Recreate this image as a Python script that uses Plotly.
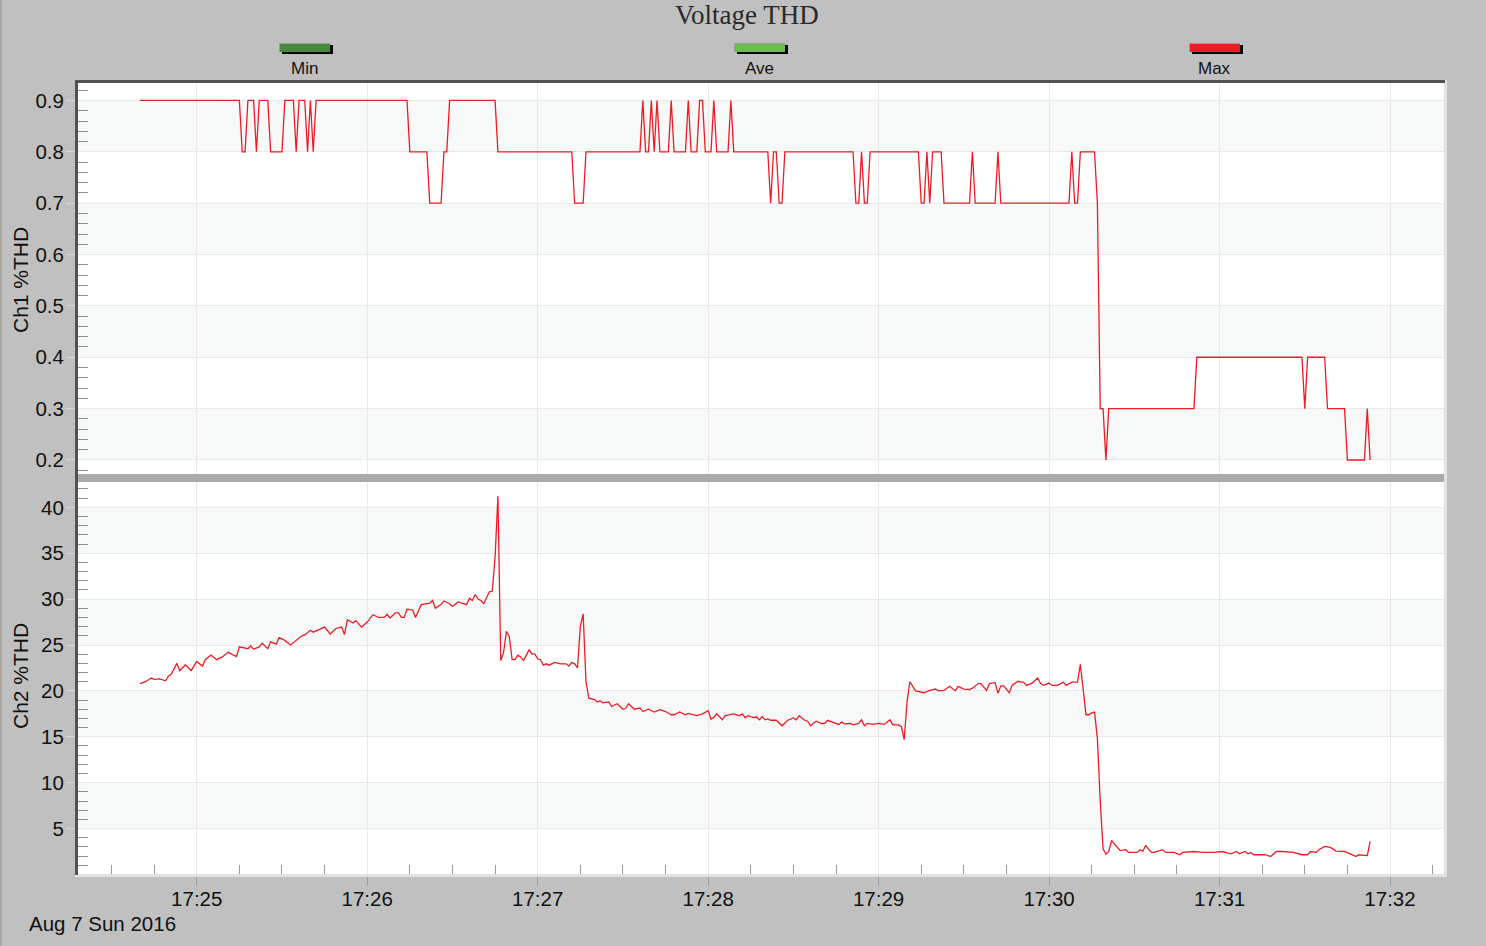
import plotly.graph_objects as go
from datetime import datetime, timedelta

# ---------------- data ----------------
START = datetime(2016, 8, 7, 17, 24, 40)
TITLE = "Voltage THD"
DATE_LABEL = "Aug 7 Sun 2016"

# Ch1 %THD (Max) : seconds after START, value
ch1_sec = [0, 35, 36, 37, 38, 40, 41, 42, 45, 46, 50, 51, 54, 55, 56, 58, 59, 60, 61, 62,
           94, 95, 101, 102, 106, 107, 108, 109, 125, 126, 152, 153, 156, 157, 176, 177, 178,
           179, 180, 181, 182, 183, 186, 187, 188, 192, 193, 194, 196, 197, 198, 199, 201,
           202, 203, 207, 208, 209, 221, 222, 223, 224, 225, 226, 227, 251, 252, 253, 254,
           255, 256, 257, 274, 275, 276, 277, 278, 279, 282, 283, 292, 293, 294, 301, 302,
           303, 327, 328, 329, 330, 331, 336, 337, 338, 339, 340, 341, 371, 372, 409, 410,
           411, 417, 418, 424, 425, 431, 432, 433]
ch1_val = [0.9, 0.9, 0.8, 0.8, 0.9, 0.9, 0.8, 0.9, 0.9, 0.8, 0.8, 0.9, 0.9, 0.8, 0.9, 0.9, 0.8, 0.9, 0.8, 0.9,
           0.9, 0.8, 0.8, 0.7, 0.7, 0.8, 0.8, 0.9, 0.9, 0.8, 0.8, 0.7, 0.7, 0.8, 0.8, 0.9, 0.8,
           0.8, 0.9, 0.8, 0.9, 0.8, 0.8, 0.9, 0.8, 0.8, 0.9, 0.8, 0.8, 0.9, 0.9, 0.8, 0.8,
           0.9, 0.8, 0.8, 0.9, 0.8, 0.8, 0.7, 0.8, 0.8, 0.7, 0.7, 0.8, 0.8, 0.7, 0.7, 0.8,
           0.7, 0.7, 0.8, 0.8, 0.7, 0.7, 0.8, 0.7, 0.8, 0.8, 0.7, 0.7, 0.8, 0.7, 0.7, 0.8,
           0.7, 0.7, 0.8, 0.7, 0.7, 0.8, 0.8, 0.7, 0.3, 0.3, 0.2, 0.3, 0.3, 0.4, 0.4, 0.3,
           0.4, 0.4, 0.3, 0.3, 0.2, 0.2, 0.3, 0.2]

# Ch2 %THD (Max) : seconds after START, value
ch2_sec = [0, 2, 4, 5, 7, 9, 10, 11, 13, 14, 16, 18, 20, 22, 23, 25, 27, 29, 31, 34, 35, 38, 39, 40,
           42, 43, 45, 46, 48, 49, 51, 53, 57, 58, 60, 61, 65, 67, 69, 71, 72, 73, 75, 76, 78, 80,
           82, 84, 86, 87, 88, 90, 91, 92, 93, 94, 96, 97, 99, 101, 102, 103, 104, 106, 107, 109,
           110, 112, 114, 115, 116, 117, 118, 119, 120, 121, 123, 124, 125, 126, 127, 128, 129,
           130, 131, 132, 133, 134, 135, 137, 138, 139, 140, 141, 142, 143, 144, 146, 148, 150,
           151, 152, 153, 154, 155, 156, 157, 158, 160, 161, 162, 163, 165, 166, 168, 170, 171,
           172, 174, 176, 177, 179, 181, 183, 185, 187, 188, 190, 192, 193, 195, 196, 198, 200,
           201, 202, 203, 205, 206, 209, 211, 212, 213, 214, 216, 217, 218, 219, 220, 221, 222,
           224, 226, 228, 230, 231, 232, 234, 235, 236, 237, 238, 240, 241, 242, 244, 246, 247,
           248, 250, 251, 253, 254, 255, 256, 258, 260, 261, 262, 264, 265, 267, 268, 269, 270,
           271, 273, 276, 278, 280, 281, 283, 285, 287, 288, 290, 292, 293, 295, 296, 298, 299,
           301, 302, 303, 304, 306, 307, 309, 310, 311, 312, 314, 316, 317, 318, 320, 321, 323,
           325, 326, 328, 330, 331, 332, 333, 334, 335, 336, 337, 338, 339, 340, 341, 342, 344,
           345, 347, 348, 351, 352, 353, 354, 356, 357, 360, 361, 364, 366, 367, 371, 374, 378,
           381, 384, 386, 387, 389, 390, 391, 392, 396, 398, 400, 402, 406, 409, 411, 412, 414,
           415, 417, 419, 421, 424, 426, 428, 429, 432, 433]
ch2_val = [20.8, 21.0, 21.4, 21.25, 21.3, 21.1, 21.6, 21.8, 23.0, 22.2, 22.85, 22.2, 23.2, 22.7, 23.4,
           23.9, 23.4, 23.7, 24.2, 23.75, 24.8, 24.6, 24.9, 24.55,
           24.8, 25.2, 24.6, 25.35, 25.1, 25.8, 25.5, 25.0, 26.0, 26.1, 26.6, 26.4, 26.95, 26.2,
           26.8, 26.95, 26.15, 27.75, 27.4, 27.65, 26.95, 27.5,
           28.3, 28.0, 28.0, 28.35, 27.95, 28.5, 28.5, 28.0, 28.0, 28.9, 28.8, 28.0, 29.4, 29.55,
           29.55, 29.85, 29.0, 29.4, 29.8, 29.5,
           29.2, 29.7, 29.5, 29.4, 30.1, 29.85, 30.5, 30.0, 29.85, 29.5, 30.8, 30.85, 34.5, 41.2,
           23.3, 24.2, 26.5,
           25.9, 23.4, 23.4, 23.9, 23.7, 23.3, 24.5, 24.0, 24.0, 23.5, 23.4, 22.8, 22.95, 22.8,
           23.1, 22.95, 22.95,
           22.7, 23.1, 22.95, 22.5, 27.0, 28.4, 21.0, 19.2, 19.05, 18.8, 18.9, 18.7, 18.8, 18.3,
           18.6, 18.0, 18.1,
           18.6, 18.0, 18.15, 17.75, 18.0, 17.7, 17.95, 17.75, 17.4, 17.4, 17.7, 17.4, 17.55, 17.4,
           17.3, 17.5, 17.85,
           16.9, 17.1, 17.5, 16.85, 17.3, 17.5, 17.3, 17.5, 17.1, 17.3, 17.1, 17.15, 16.85, 17.2,
           16.85, 16.95, 16.8,
           16.8, 16.2, 16.8, 17.05, 16.85, 17.3, 16.8, 16.7, 16.2, 16.45, 16.7, 16.45, 16.45, 16.8,
           16.6, 16.35, 16.6,
           16.4, 16.45, 16.3, 16.45, 16.85, 16.2, 16.45, 16.35, 16.45, 16.4, 16.35, 16.85, 16.3,
           16.3, 16.1, 14.7, 18.8,
           21.0, 20.0, 19.8, 20.05, 20.2, 20.0, 20.05, 20.5, 20.0, 20.5, 20.2, 20.15, 20.3, 20.8,
           20.8, 20.05, 20.8,
           20.9, 19.75, 20.55, 20.55, 19.8, 20.6, 21.05, 20.95, 20.95, 20.6, 20.85, 21.4, 20.8,
           20.6, 20.85, 20.6, 20.6,
           20.95, 20.6, 20.95, 20.95, 22.9, 19.8, 17.4, 17.4, 17.6, 17.7, 14.8, 8.0, 2.8, 2.2, 2.5,
           3.7, 2.9,
           2.6, 2.7, 2.4, 2.4, 2.7, 2.55, 3.15, 2.4, 2.4, 2.7, 2.4, 2.4, 2.15, 2.4, 2.5, 2.4, 2.4,
           2.5, 2.25, 2.5, 2.25, 2.5, 2.25, 2.4, 2.15, 2.15, 1.95, 2.5, 2.5, 2.4, 2.15, 2.15, 2.5,
           2.4,
           2.7, 3.05, 2.95, 2.55, 2.5, 2.25, 1.95, 2.15, 2.05, 3.6]

x_tick_labels = ["17:25", "17:26", "17:27", "17:28", "17:29", "17:30", "17:31", "17:32"]
ch1_ticks = [0.2, 0.3, 0.4, 0.5, 0.6, 0.7, 0.8, 0.9]
ch2_ticks = [5, 10, 15, 20, 25, 30, 35, 40]
legend_names = ["Min", "Ave", "Max"]
legend_colors = ["#468a3e", "#6abf4b", "#ec1c24"]

# ---------------- geometry helpers ----------------
W, H = 1486, 946


def fx(p):
    return p / W


def fy(p):
    return 1 - p / H


DAY = START.date()


def at(s):
    return START + timedelta(seconds=s)


x1 = [at(s) for s in ch1_sec]
x2 = [at(s) for s in ch2_sec]
xtickvals = [datetime(DAY.year, DAY.month, DAY.day, int(l[:2]), int(l[3:])) for l in x_tick_labels]
x_range = [datetime(2016, 8, 7, 17, 24, 18, 200000), datetime(2016, 8, 7, 17, 32, 19)]

minor_x = []
m = datetime(2016, 8, 7, 17, 24, 30)
while m <= datetime(2016, 8, 7, 17, 32, 15):
    if m.second != 0:
        minor_x.append(m)
    m += timedelta(seconds=15)
minor_y1 = [round(k * 0.02, 2) for k in range(9, 47) if k % 5 != 0]
minor_y2 = [k for k in range(1, 43) if k % 5 != 0]

SANS = "Liberation Sans, Arial, sans-serif"
GRID = "#e8e8e8"
LINE = "#ec1c24"

fig = go.Figure()
fig.add_trace(go.Scatter(x=x1, y=ch1_val, mode="lines", line=dict(color=LINE, width=1.3),
                         xaxis="x", yaxis="y", name="Max", hoverinfo="skip"))
fig.add_trace(go.Scatter(x=x2, y=ch2_val, mode="lines", line=dict(color=LINE, width=1.3),
                         xaxis="x2", yaxis="y2", name="Max", hoverinfo="skip"))

xdom = [fx(78), fx(1444)]
common_x = dict(type="date", range=x_range, domain=xdom, showgrid=True, gridcolor=GRID,
                gridwidth=1, zeroline=False, showline=False, tickmode="array",
                tickvals=xtickvals, ticktext=x_tick_labels)

shapes = []
# alternating bands
for lo, hi in [(ch1_ticks[i], ch1_ticks[i + 1]) for i in range(len(ch1_ticks) - 2, -1, -2)]:
    shapes.append(dict(type="rect", xref="x domain", yref="y", x0=0, x1=1, y0=lo, y1=hi,
                       fillcolor="#f7f9f9", line=dict(width=0), layer="below"))
for lo, hi in [(ch2_ticks[i], ch2_ticks[i + 1]) for i in range(len(ch2_ticks) - 2, -1, -2)]:
    shapes.append(dict(type="rect", xref="x2 domain", yref="y2", x0=0, x1=1, y0=lo, y1=hi,
                       fillcolor="#f7f9f9", line=dict(width=0), layer="below"))


def prect(x0, y0, x1_, y1_, color):
    shapes.append(dict(type="rect", xref="paper", yref="paper", x0=fx(x0), x1=fx(x1_),
                       y0=fy(y1_), y1=fy(y0), fillcolor=color, line=dict(width=0), layer="above"))


# separator between the panels
prect(78, 474, 1444, 482, "#ababab")
# frame: light right/bottom, dark top/left
prect(1444, 80, 1447, 877, "#e2e2e2")
prect(75, 874, 1447, 877, "#e2e2e2")
prect(75, 80, 1445, 83, "#525252")
prect(75, 80, 78, 875, "#525252")
# thin left edge of the window
prect(0, 0, 2, 946, "#aca89f")

annotations = [
    dict(text=TITLE, xref="paper", yref="paper", x=fx(747), y=fy(15), showarrow=False,
         xanchor="center", yanchor="middle",
         font=dict(family="Liberation Serif, Times New Roman, serif", size=27, color="#2a2a2a")),
    dict(text="Ch1 %THD", xref="paper", yref="paper", x=fx(20), y=fy(280), showarrow=False,
         textangle=-90, xanchor="center", yanchor="middle",
         font=dict(family=SANS, size=21, color="#111111")),
    dict(text="Ch2 %THD", xref="paper", yref="paper", x=fx(20), y=fy(676), showarrow=False,
         textangle=-90, xanchor="center", yanchor="middle",
         font=dict(family=SANS, size=21, color="#111111")),
    dict(text=DATE_LABEL, xref="paper", yref="paper", x=fx(27), y=fy(923), showarrow=False,
         xanchor="left", yanchor="middle", font=dict(family=SANS, size=20.5, color="#111111")),
]

# legend swatches
for k, (name, col) in enumerate(zip(legend_names, legend_colors)):
    cx = 304.5 + 455 * k
    prect(cx - 22.5, 45, cx + 28.5, 54, "#000000")
    prect(cx - 25.5, 43, cx + 25.5, 52, "#9a9a9a")
    prect(cx - 24.5, 44, cx + 25.5, 52, col)
    annotations.append(dict(text=name, xref="paper", yref="paper", x=fx(cx), y=fy(68),
                            showarrow=False, xanchor="center", yanchor="middle",
                            font=dict(family=SANS, size=17, color="#111111")))

fig.update_layout(
    width=W, height=H, autosize=False,
    margin=dict(l=0, r=0, t=0, b=0, pad=0),
    paper_bgcolor="#c0c0c0", plot_bgcolor="#ffffff",
    showlegend=False, hovermode=False,
    xaxis=dict(common_x, anchor="y", showticklabels=False, ticks=""),
    xaxis2=dict(common_x, anchor="y2", matches="x", showticklabels=True, ticks="outside",
                ticklen=11, tickcolor="#9a9a9a", tickwidth=1, ticklabelstandoff=-5,
                tickfont=dict(family=SANS, size=20.5, color="#111111"),
                minor=dict(tickmode="array", tickvals=minor_x, ticks="inside", ticklen=9,
                           tickcolor="#9a9a9a", showgrid=False)),
    yaxis=dict(domain=[fy(474), fy(83)], range=[0.1727, 0.934], anchor="x",
               tickmode="array", tickvals=ch1_ticks, ticktext=[f"{v:.1f}" for v in ch1_ticks],
               ticks="outside", ticklen=11, tickcolor="#dcdcdc", showgrid=True, gridcolor=GRID,
               zeroline=False, showline=False, ticklabelstandoff=-2,
               tickfont=dict(family=SANS, size=20.5, color="#111111"),
               minor=dict(tickmode="array", tickvals=minor_y1, ticks="inside", ticklen=10,
                          tickcolor="#909090", showgrid=False)),
    yaxis2=dict(domain=[fy(874), fy(482)], range=[0.05, 42.76], anchor="x2",
                tickmode="array", tickvals=ch2_ticks, ticktext=[str(v) for v in ch2_ticks],
                ticks="outside", ticklen=11, tickcolor="#dcdcdc", showgrid=True, gridcolor=GRID,
                zeroline=False, showline=False, ticklabelstandoff=-2,
                tickfont=dict(family=SANS, size=20.5, color="#111111"),
                minor=dict(tickmode="array", tickvals=minor_y2, ticks="inside", ticklen=10,
                           tickcolor="#909090", showgrid=False)),
    shapes=shapes,
    annotations=annotations,
)

fig.write_html("out.html", config={"displayModeBar": False},
               post_script="document.body.style.margin='0';")
